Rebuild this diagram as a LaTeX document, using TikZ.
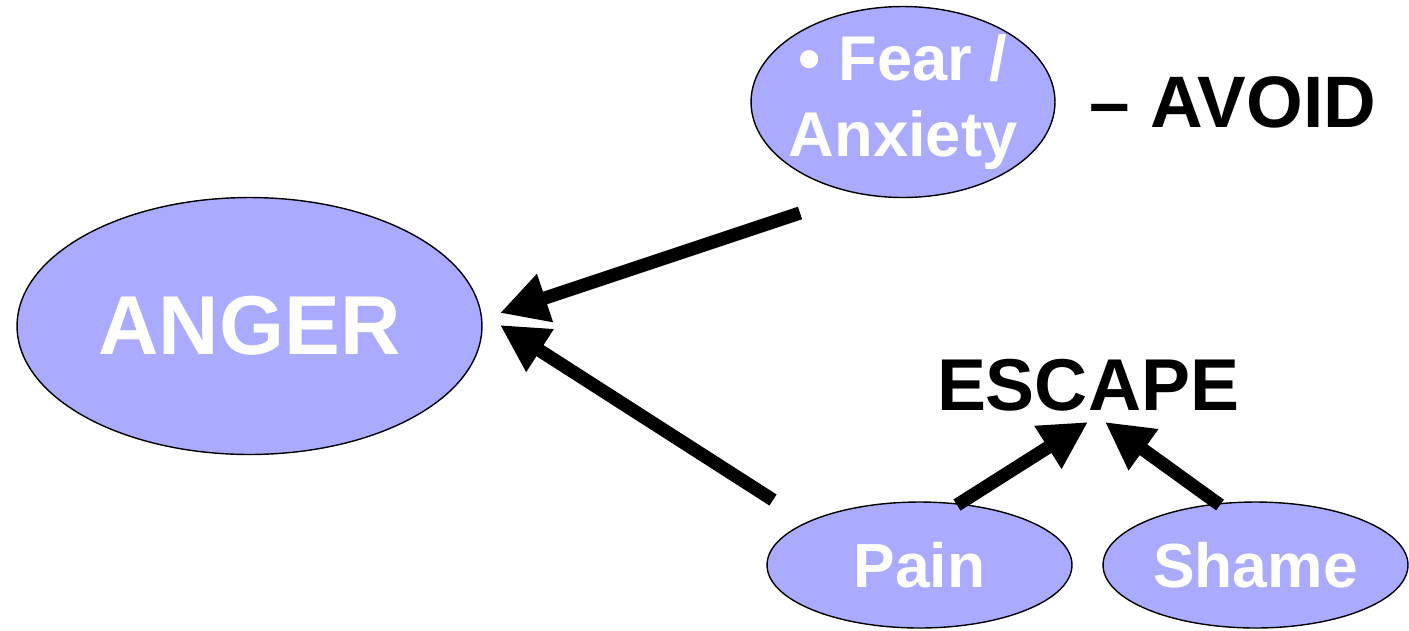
\documentclass[tikz,border=0pt]{standalone}
\usepackage{fontspec}
\setmainfont{Liberation Sans}
\usetikzlibrary{arrows.meta,shapes.geometric}

\definecolor{feel}{RGB}{170,170,255}

\tikzset{
  emo/.style={ellipse, draw=black, thick, fill=feel, inner sep=0pt,
              text=white, align=center},
  push/.style={line width=7.5pt, -{Triangle[length=0.95cm,width=0.95cm]}}
}

\begin{document}
\begin{tikzpicture}[x=0.02cm,y=-0.02cm]
            \useasboundingbox (0,0) rectangle (1409,630);

            % Feelings
            \node[emo, minimum width=9.3cm, minimum height=5.14cm,
                  font=\bfseries\fontsize{47.6}{56}\selectfont] (anger) at (249.5,326) {ANGER};
            \node[emo, minimum width=6.08cm, minimum height=3.82cm] (fear) at (903,102) {};
            \node[text=white, align=center, inner sep=0pt,
                  font=\bfseries\fontsize{36}{43.5}\selectfont] (feartext) at (fear.center)
                {\textbullet\ Fear /\\Anxiety};
            \node[emo, minimum width=6.1cm, minimum height=2.52cm,
                  font=\bfseries\fontsize{35.5}{42}\selectfont] (pain) at (919.5,565) {Pain};
            \node[emo, minimum width=6.1cm, minimum height=2.52cm,
                  font=\bfseries\fontsize{35.5}{42}\selectfont] (shame) at (1255.5,565) {Shame};

            % Labels
            \node[font=\bfseries\fontsize{41.5}{50}\selectfont] (avoid) at (1233,102) {-- AVOID};
            \node[font=\bfseries\fontsize{41.8}{50}\selectfont] (escape) at (1088,385) {ESCAPE};

            % Arrow ends
            \foreach \name/\x/\y in {fs/800/213, fe/500/313, ps/773/500, pe/500/325,
                                     es/957/505, ee/1088/422, ss/1220/505, se/1105/422} {
                \coordinate (\name) at (\x,\y);
            }
            \draw[push] (fs) -- (fe);
            \draw[push] (ps) -- (pe);
            \draw[push] (es) -- (ee);
            \draw[push] (ss) -- (se);
\end{tikzpicture}
\end{document}
